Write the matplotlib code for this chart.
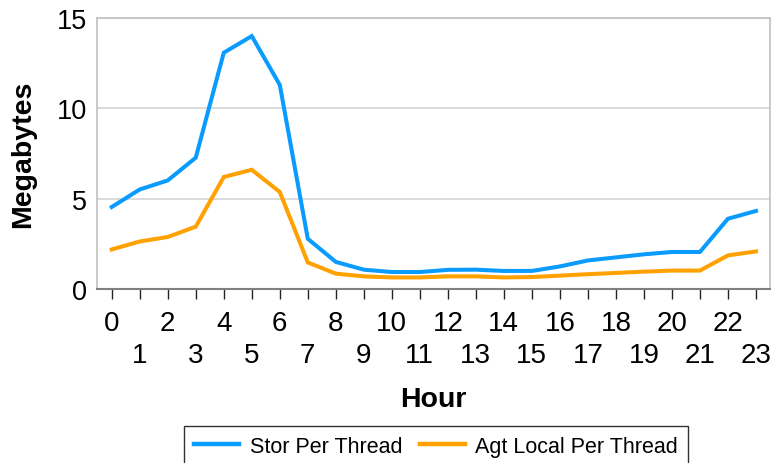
import numpy as np
import matplotlib.pyplot as plt

plt.rcParams['font.family'] = ['Liberation Sans', 'DejaVu Sans']

# =============================================================================
# DATA
# =============================================================================
hours = list(range(24))
stor_per_thread = [4.54, 5.51, 6.01, 7.27, 13.08, 14.0, 11.3, 2.78, 1.50, 1.07,
                   0.94, 0.94, 1.06, 1.07, 1.0, 1.0, 1.25, 1.58, 1.75, 1.92,
                   2.05, 2.05, 3.89, 4.32]
agt_local_per_thread = [2.19, 2.63, 2.88, 3.45, 6.2, 6.6, 5.37, 1.47, 0.85, 0.70,
                        0.64, 0.64, 0.70, 0.70, 0.64, 0.66, 0.74, 0.82, 0.89, 0.96,
                        1.02, 1.02, 1.86, 2.08]
tick_labels = [str(h) if h % 2 == 0 else '\n' + str(h) for h in hours]

BLUE = '#0a9bff'
ORANGE = '#ffa100'

# =============================================================================
# PLOT
# =============================================================================
fig = plt.figure(figsize=(7.75, 4.64), dpi=100)
ax = fig.add_axes([0.125, 0.375, 0.8685, 0.584])

ax.plot(hours, stor_per_thread, color=BLUE, linewidth=2.9,
        label='Stor Per Thread', solid_joinstyle='miter')
ax.plot(hours, agt_local_per_thread, color=ORANGE, linewidth=2.9,
        label='Agt Local Per Thread', solid_joinstyle='miter')

ax.set_xlim(-0.53, 23.5)
ax.set_ylim(0, 15)
ax.set_yticks([0, 5, 10, 15])
ax.set_xticks(hours)
ax.set_xticklabels(tick_labels, linespacing=1.3,
                   family=['Liberation Sans Narrow', 'Liberation Sans'])
ax.tick_params(axis='x', direction='out', length=7, width=1, color='#222222',
               labelsize=20, pad=8)
ax.tick_params(axis='y', length=0, labelsize=19.5, pad=7)

ax.grid(axis='y', color='#d4d4d4', linewidth=1.2)
ax.set_axisbelow(True)
for side in ['top', 'right', 'left']:
    ax.spines[side].set_color('#c0c0c0')
    ax.spines[side].set_linewidth(1.2)
ax.spines['bottom'].set_color('#808080')
ax.spines['bottom'].set_linewidth(1.5)

ax.set_ylabel('Megabytes', fontsize=20.5, fontweight='bold', va='center')
ax.yaxis.set_label_coords(-0.11, 0.502)
ax.set_xlabel('Hour', fontsize=20.5, fontweight='bold', va='center')
ax.xaxis.set_label_coords(0.5, -0.406)

leg = fig.legend(loc='upper center', bbox_to_anchor=(0.5626, 0.08), ncol=2,
                 fontsize=15.5, frameon=True, fancybox=False, handlelength=2.1,
                 columnspacing=0.8, handletextpad=0.5, borderpad=0.45,
                 borderaxespad=0)
leg.get_frame().set_edgecolor('black')
leg.get_frame().set_linewidth(1.0)
for line in leg.get_lines():
    line.set_linewidth(3.2)

plt.savefig('out.png', dpi=100)
